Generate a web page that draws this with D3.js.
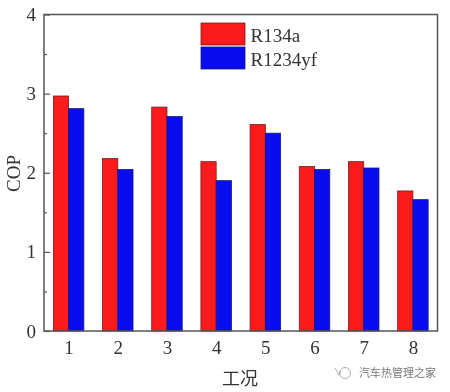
<!DOCTYPE html>
<html>
<head>
<meta charset="utf-8">
<script src="https://d3js.org/d3.v7.min.js"></script>
<style>
  html, body { margin: 0; padding: 0; background: #fff; }
  svg { display: block; filter: blur(0.5px); }
  text { font-family: "Liberation Serif", serif; fill: #333; }
</style>
</head>
<body>
<svg id="chart" width="450" height="392"></svg>
<script>
const categories = [1, 2, 3, 4, 5, 6, 7, 8];
const r134a = [2.97, 2.18, 2.83, 2.14, 2.61, 2.08, 2.14, 1.77];
const r1234yf = [2.81, 2.04, 2.71, 1.90, 2.50, 2.04, 2.06, 1.66];
const yTicks = [0, 1, 2, 3, 4];
const yMinorTicks = [0.5, 1.5, 2.5, 3.5];
const seriesNames = ["R134a", "R1234yf"];
const seriesColors = ["#fb1a1c", "#0a0cf0"];
const seriesEdges = ["#7a1a20", "#101a80"];

const svg = d3.select("#chart");
const margin = { top: 14.5, right: 12.5, bottom: 61, left: 44 };
const width = +svg.attr("width") - margin.left - margin.right;
const height = +svg.attr("height") - margin.top - margin.bottom;

const g = svg.append("g").attr("transform", "translate(" + margin.left + "," + margin.top + ")");

const x = d3.scaleLinear().domain([0.5, 8.5]).range([0, width]);
const y = d3.scaleLinear().domain([0, 4]).range([height, 0]);
const barWidth = x(1.31) - x(1);

[r134a, r1234yf].forEach((values, s) => {
    g.selectAll(".bar-" + s)
        .data(values)
        .enter().append("rect")
        .attr("class", "bar-" + s)
        .attr("x", (d, i) => x(categories[i]) + (s - 1) * barWidth)
        .attr("y", d => y(d))
        .attr("width", barWidth)
        .attr("height", d => height - y(d))
        .attr("fill", seriesColors[s])
        .attr("stroke", seriesEdges[s])
        .attr("stroke-width", 0.8);
});

// frame
g.append("rect")
    .attr("width", width)
    .attr("height", height)
    .attr("fill", "none")
    .attr("stroke", "#555")
    .attr("stroke-width", 1.5);

// y axis, ticks point inward
const yAxis = g.append("g")
    .call(d3.axisLeft(y).tickValues(yTicks).tickSize(-6).tickPadding(8).tickFormat(d3.format("d")));
yAxis.select(".domain").remove();
yAxis.selectAll("line").attr("stroke", "#555").attr("stroke-width", 1.2);
yAxis.selectAll("text").attr("font-size", 19).style("font-family", '"Liberation Serif", serif').style("fill", "#333");

g.append("g")
    .call(d3.axisLeft(y).tickValues(yMinorTicks).tickSize(-3).tickFormat(""))
    .call(a => a.select(".domain").remove())
    .selectAll("line").attr("stroke", "#555").attr("stroke-width", 1.2);

// x axis
const xAxis = g.append("g")
    .attr("transform", "translate(0," + height + ")")
    .call(d3.axisBottom(x).tickValues(categories).tickSize(0).tickPadding(9.5).tickFormat(d3.format("d")));
xAxis.select(".domain").remove();
xAxis.selectAll("text").attr("font-size", 19).style("font-family", '"Liberation Serif", serif').style("fill", "#333");

// axis titles
svg.append("text")
    .attr("transform", "translate(20,173.5) rotate(-90)")
    .attr("text-anchor", "middle")
    .attr("font-size", 19)
    .text("COP");

svg.append("text")
    .attr("x", 240)
    .attr("y", 385)
    .attr("text-anchor", "middle")
    .attr("font-size", 18)
    .style("font-family", '"Noto Sans CJK SC", sans-serif')
    .text("工况");

// legend
seriesNames.forEach((name, i) => {
    svg.append("rect")
        .attr("x", 201)
        .attr("y", 23 + i * 24)
        .attr("width", 44)
        .attr("height", 22)
        .attr("fill", seriesColors[i])
        .attr("stroke", seriesEdges[i])
        .attr("stroke-width", 0.8);
    svg.append("text")
        .attr("x", 250.5)
        .attr("y", 41.5 + i * 24)
        .attr("font-size", 19)
        .text(name);
});

// watermark
const mark = svg.append("g").attr("fill", "none").attr("stroke", "#999").attr("stroke-width", 0.8);
mark.append("circle").attr("cx", 345).attr("cy", 373).attr("r", 5.5);
mark.append("path").attr("d", "M335 368 L339 375 L341 371");

svg.append("text")
    .attr("x", 359)
    .attr("y", 376.5)
    .attr("font-size", 11)
    .style("font-family", '"Noto Sans CJK SC", sans-serif')
    .style("fill", "#777")
    .text("汽车热管理之家");
</script>
</body>
</html>
